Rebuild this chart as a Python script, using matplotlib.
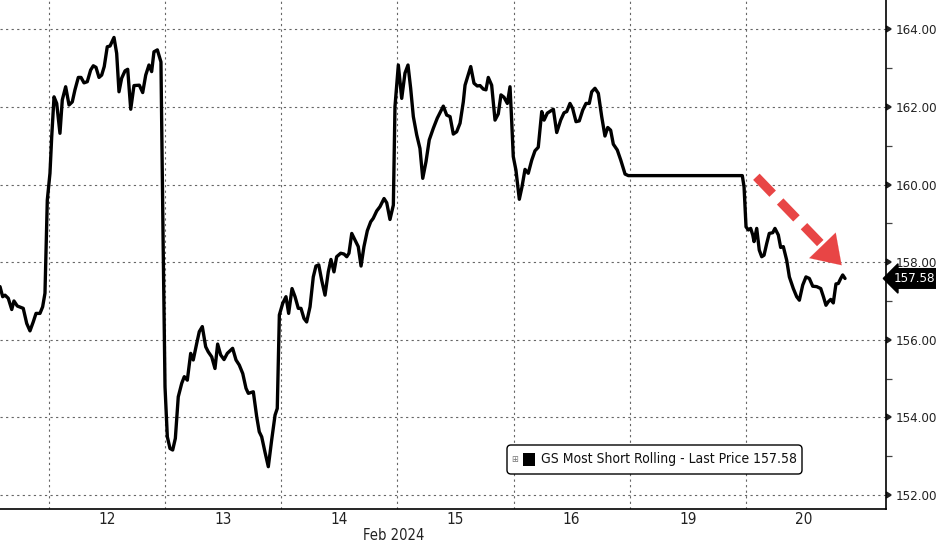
import matplotlib
matplotlib.use("Agg")
import matplotlib.pyplot as plt
from matplotlib import font_manager
from matplotlib.markers import CARETRIGHTBASE
from matplotlib.patches import FancyBboxPatch, Rectangle
from matplotlib.transforms import IdentityTransform
from matplotlib.ticker import FixedLocator, MultipleLocator, NullFormatter

# narrow face like the terminal font, if there is one
narrow = None
for f in font_manager.fontManager.ttflist:
    if ('Narrow' in f.name or 'Condensed' in f.name or f.stretch in ('condensed', 'semi-condensed')) \
            and f.style == 'normal' and f.weight in (400, 'normal', 'regular'):
        narrow = f
        break

if narrow is not None:
    plt.rcParams['font.family'] = [narrow.name, 'DejaVu Sans']
    plt.rcParams['font.stretch'] = narrow.stretch
    k = 1.0
else:
    plt.rcParams['font.family'] = ['DejaVu Sans']
    k = 0.88

# time in trading days from the open of Feb 12 (one unit per session)
t_days = [
    -0.419, -0.396, -0.376, -0.348, -0.318, -0.299, -0.270, -0.219, -0.189, -0.161,
    -0.133, -0.109, -0.075, -0.052, -0.032, -0.012, 0.011, 0.026, 0.046, 0.069,
    0.097, 0.117, 0.146, 0.175, 0.203, 0.226, 0.255, 0.278, 0.304, 0.332,
    0.361, 0.384, 0.407, 0.433, 0.456, 0.478, 0.504, 0.528, 0.562, 0.585,
    0.605, 0.628, 0.657, 0.680, 0.706, 0.734, 0.780, 0.809, 0.835, 0.863,
    0.886, 0.906, 0.935, 0.966, 0.986, 1.001, 1.021, 1.044, 1.067, 1.090,
    1.115, 1.145, 1.167, 1.193, 1.222, 1.244, 1.274, 1.296, 1.322, 1.351,
    1.373, 1.403, 1.431, 1.454, 1.480, 1.509, 1.537, 1.583, 1.612, 1.640,
    1.670, 1.698, 1.718, 1.761, 1.790, 1.812, 1.833, 1.861, 1.890, 1.919,
    1.948, 1.967, 1.985, 2.014, 2.042, 2.065, 2.094, 2.120, 2.148, 2.171,
    2.197, 2.220, 2.249, 2.277, 2.300, 2.324, 2.349, 2.378, 2.406, 2.429,
    2.455, 2.478, 2.513, 2.541, 2.565, 2.584, 2.608, 2.636, 2.664, 2.688,
    2.713, 2.742, 2.771, 2.793, 2.823, 2.851, 2.886, 2.909, 2.937, 2.966,
    2.980, 3.009, 3.038, 3.066, 3.092, 3.115, 3.138, 3.167, 3.195, 3.219,
    3.247, 3.275, 3.310, 3.344, 3.396, 3.425, 3.454, 3.482, 3.511, 3.540,
    3.568, 3.583, 3.632, 3.660, 3.688, 3.712, 3.740, 3.763, 3.783, 3.812,
    3.841, 3.869, 3.892, 3.918, 3.947, 3.970, 3.984, 3.998, 4.021, 4.050,
    4.073, 4.099, 4.127, 4.157, 4.185, 4.213, 4.243, 4.263, 4.291, 4.343,
    4.372, 4.406, 4.435, 4.458, 4.486, 4.509, 4.538, 4.566, 4.596, 4.624,
    4.652, 4.673, 4.701, 4.730, 4.759, 4.787, 4.811, 4.836, 4.859, 4.893,
    4.923, 4.960, 4.988, 5.969, 5.984, 6.001, 6.021, 6.041, 6.059, 6.070,
    6.093, 6.115, 6.136, 6.156, 6.179, 6.201, 6.231, 6.250, 6.279, 6.299,
    6.322, 6.351, 6.374, 6.408, 6.437, 6.460, 6.489, 6.517, 6.546, 6.575,
    6.609, 6.644, 6.667, 6.689, 6.709, 6.730, 6.752, 6.775, 6.795, 6.816,
    6.833, 6.853,
]

price = [
    157.37, 157.11, 157.15, 157.07, 156.78, 157.00, 156.87, 156.81, 156.42, 156.23,
    156.46, 156.68, 156.68, 156.85, 157.20, 159.60, 160.29, 161.23, 162.26, 162.09,
    161.32, 162.18, 162.52, 162.05, 162.13, 162.44, 162.76, 162.76, 162.62, 162.65,
    162.95, 163.06, 163.02, 162.76, 162.82, 163.04, 163.55, 163.57, 163.79, 163.38,
    162.39, 162.74, 162.93, 162.97, 161.94, 162.55, 162.56, 162.37, 162.82, 163.08,
    162.91, 163.42, 163.47, 163.16, 158.23, 154.79, 153.50, 153.20, 153.16, 153.46,
    154.53, 154.88, 155.05, 154.96, 155.65, 155.48, 155.91, 156.21, 156.34, 155.82,
    155.69, 155.56, 155.26, 155.89, 155.61, 155.49, 155.65, 155.78, 155.48, 155.35,
    155.13, 154.75, 154.62, 154.66, 154.02, 153.63, 153.50, 153.11, 152.73, 153.42,
    154.06, 154.23, 156.64, 156.94, 157.11, 156.68, 157.32, 157.11, 156.81, 156.81,
    156.55, 156.46, 156.85, 157.62, 157.90, 157.93, 157.54, 157.15, 157.75, 158.07,
    157.75, 158.14, 158.23, 158.21, 158.14, 158.23, 158.74, 158.57, 158.40, 157.90,
    158.40, 158.81, 159.04, 159.13, 159.32, 159.43, 159.64, 159.53, 159.10, 159.47,
    162.01, 163.08, 162.22, 162.87, 163.08, 162.48, 161.75, 161.28, 160.93, 160.16,
    160.59, 161.15, 161.45, 161.71, 162.02, 161.79, 161.75, 161.30, 161.36, 161.58,
    162.13, 162.56, 163.04, 162.61, 162.54, 162.55, 162.46, 162.44, 162.76, 162.56,
    161.66, 161.82, 162.31, 162.25, 162.09, 162.52, 161.66, 160.72, 160.37, 159.62,
    159.94, 160.39, 160.29, 160.63, 160.87, 160.96, 161.88, 161.66, 161.84, 161.94,
    161.34, 161.66, 161.85, 161.88, 162.09, 161.96, 161.62, 161.64, 161.92, 162.09,
    162.09, 162.39, 162.48, 162.35, 161.75, 161.25, 161.47, 161.40, 161.04, 160.89,
    160.63, 160.27, 160.23, 160.23, 159.94, 158.91, 158.83, 158.87, 158.70, 158.53,
    158.87, 158.31, 158.14, 158.18, 158.48, 158.74, 158.76, 158.87, 158.70, 158.38,
    158.40, 158.05, 157.62, 157.32, 157.11, 157.02, 157.41, 157.62, 157.58, 157.38,
    157.37, 157.32, 157.11, 156.89, 156.98, 157.04, 156.95, 157.44, 157.45, 157.58,
    157.67, 157.58,
]

day_labels = ['12', '13', '14', '15', '16', '19', '20']
month_label = 'Feb 2024'
series_name = 'GS Most Short Rolling - Last Price'
last_price = price[-1]

# trend arrow (start / tip) in the chart's own units
arrow_start = (6.090, 160.20)
arrow_tip = (6.824, 157.92)

red = '#e84545'
grid_kw = dict(color='#666666', linestyle=(0, (2, 3)), linewidth=0.8)

fig = plt.figure(figsize=(9.36, 5.42), dpi=100)
ax = fig.add_axes([0.0, 1 - 509 / 542, 885.7 / 936, 509 / 542])

ax.plot(t_days, price, color='black', linewidth=2.4,
        solid_joinstyle='round', solid_capstyle='round', zorder=3)

ax.set_xlim(-0.419, 7.203)
ax.set_ylim(151.64, 164.755)

# y axis on the right
ax.yaxis.tick_right()
ax.yaxis.set_major_locator(MultipleLocator(2))
ax.yaxis.set_minor_locator(MultipleLocator(1))
ax.yaxis.set_major_formatter(lambda v, pos: f'{v:.2f}')
ax.tick_params(axis='y', which='major', length=5, width=1.2, pad=2.5,
               labelsize=9.5 * k, labelcolor='#222222', color='#222222')
ax.tick_params(axis='y', which='minor', length=4, width=0.9, color='#444444')
for tk in ax.yaxis.get_major_ticks():
    tk.tick2line.set_marker(CARETRIGHTBASE)
    tk.tick2line.set_markersize(5)

# day boundaries as grid, day names in between
n_days = len(day_labels)
ax.xaxis.set_major_locator(FixedLocator(list(range(n_days))))
ax.xaxis.set_major_formatter(NullFormatter())
ax.xaxis.set_minor_locator(FixedLocator([i + 0.5 for i in range(n_days)]))
ax.set_xticklabels(day_labels, minor=True)
ax.tick_params(axis='x', which='both', length=0, labelsize=11 * k,
               labelcolor='#222222', pad=2.5)

ax.grid(True, axis='both', which='major', **grid_kw)

for side in ['top', 'left']:
    ax.spines[side].set_visible(False)
ax.spines['right'].set_linewidth(1.2)
ax.spines['bottom'].set_linewidth(1.2)

fig.text(394 / 936, 1 - 535 / 542, month_label, ha='center', va='center',
         fontsize=10.5 * k, color='#222222')

# dashed red trend arrow
frac = 0.80
base = (arrow_start[0] + frac * (arrow_tip[0] - arrow_start[0]),
        arrow_start[1] + frac * (arrow_tip[1] - arrow_start[1]))
ax.plot([arrow_start[0], base[0]], [arrow_start[1], base[1]], color=red,
        linewidth=6.5, dashes=(2.6, 1.2), solid_capstyle='butt', zorder=4)
ax.annotate('', xy=arrow_tip, xytext=base,
            arrowprops=dict(arrowstyle='-|>,head_length=0.9,head_width=0.6',
                            color=red, linewidth=0.1, mutation_scale=22,
                            shrinkA=0, shrinkB=0),
            zorder=4)

# last price tag on the axis
ax.annotate(f'{last_price:.2f}', xy=(1.0, last_price),
            xycoords=('axes fraction', 'data'),
            xytext=(6, 0), textcoords='offset points',
            ha='left', va='center', fontsize=9.5 * k, color='white',
            bbox=dict(boxstyle='larrow,pad=0.25', fc='black', ec='black'),
            annotation_clip=False, zorder=8)

# legend box (figure pixels, origin bottom-left)
px = IdentityTransform()
fig.patches.append(FancyBboxPatch((507, 68), 295, 29,
                                  boxstyle='round,pad=0,rounding_size=4',
                                  fc='white', ec='black', lw=1.0,
                                  transform=px, figure=fig, zorder=6))
fig.patches.append(Rectangle((523, 76), 12, 13, fc='black', ec='none',
                             transform=px, figure=fig, zorder=7))
fig.text(514.5 / 936, 82.5 / 542, '\u229e', ha='center', va='center',
         fontsize=6.5, color='#777777', family=['DejaVu Sans'], zorder=7)
fig.text(541 / 936, 82.5 / 542, f'{series_name} {last_price:.2f}',
         ha='left', va='center', fontsize=10 * k, color='#111111', zorder=7)

fig.savefig('out.png', dpi=100)
